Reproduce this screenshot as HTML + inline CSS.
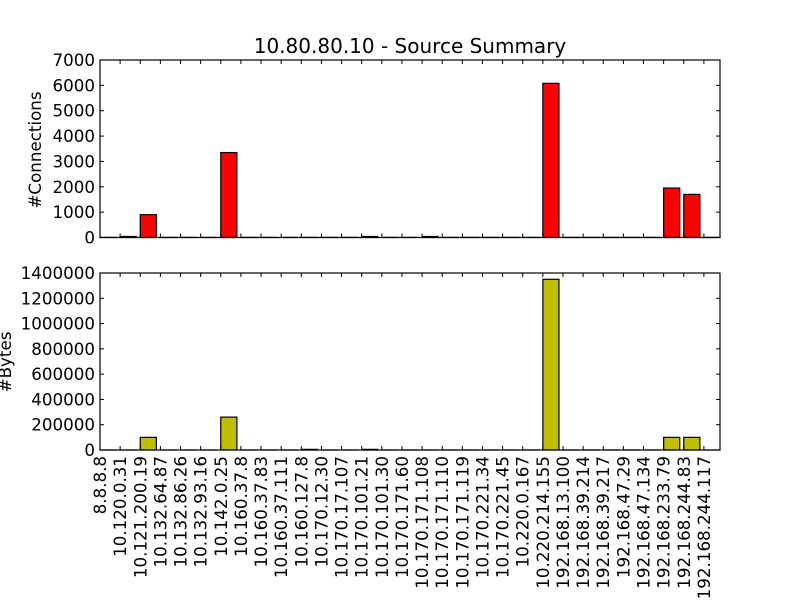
<!DOCTYPE html>
<html><head><meta charset="utf-8"><style>body{margin:0;background:#fff}svg{display:block;font-family:"DejaVu Sans","Liberation Sans",sans-serif}</style></head>
<body>
<svg id="chart" width="800" height="600" xmlns="http://www.w3.org/2000/svg">
<rect width="800" height="600" fill="#fff"/>
<text x="410" y="53" font-size="20" text-anchor="middle">10.80.80.10 - Source Summary</text>
<g id="top"></g><g id="bot"></g><g id="xl"></g>
<text transform="translate(41,150) rotate(-90)" font-size="16.7" text-anchor="middle">#Connections</text>
<text transform="translate(11,362) rotate(-90)" font-size="16.7" text-anchor="middle">#Bytes</text>
</svg>
<script>
const categories=["8.8.8.8","10.120.0.31","10.121.200.19","10.132.64.87","10.132.86.26","10.132.93.16","10.142.0.25","10.160.37.8","10.160.37.83","10.160.37.111","10.160.127.8","10.170.12.30","10.170.17.107","10.170.101.21","10.170.101.30","10.170.171.60","10.170.171.108","10.170.171.110","10.170.171.119","10.170.221.34","10.170.221.45","10.220.0.167","10.220.214.155","192.168.13.100","192.168.39.214","192.168.39.217","192.168.47.29","192.168.47.134","192.168.233.79","192.168.244.83","192.168.244.117"];
const connections=[5,40,900,5,5,5,3350,5,5,5,5,5,5,40,5,5,40,5,5,5,5,5,6080,5,5,5,5,5,1950,1700,5];
const bytes=[100,100,100000,100,100,100,260000,100,300,100,5000,100,100,5000,100,100,100,100,100,100,100,100,1350000,100,100,100,100,100,100000,100000,100];
const connTicks=[0,1000,2000,3000,4000,5000,6000,7000];
const byteTicks=[0,200000,400000,600000,800000,1000000,1200000,1400000];
const NS="http://www.w3.org/2000/svg";
const L=100,R=720,xmax=30.8;
const x=v=>L+v*(R-L)/xmax;
function mk(t,a,p){const e=document.createElementNS(NS,t);for(const k in a)e.setAttribute(k,a[k]);p.appendChild(e);return e;}
function panel(g,vals,ticks,top,bot,color,nm){
  const ymax=ticks[ticks.length-1];
  const y=v=>bot-v/ymax*(bot-top);
  vals.forEach((v,i)=>{
    const r=mk('rect',{x:x(i),y:y(v),width:x(0.8)-x(0),height:bot-y(v),fill:color,stroke:'#000','stroke-width':1.2},g);
    
    
  });
  const f=mk('rect',{x:L,y:top,width:R-L,height:bot-top,fill:'none',stroke:'#000','stroke-width':1.2},g);
  
  
  ticks.forEach(t=>{
    mk('line',{x1:L,x2:L+4,y1:y(t),y2:y(t),stroke:'#000'},g);
    mk('line',{x1:R,x2:R-4,y1:y(t),y2:y(t),stroke:'#000'},g);
    const tx=mk('text',{x:L-5,y:y(t)+6,'font-size':16.7,'text-anchor':'end'},g);
    tx.textContent=t;
    
    
  });
  categories.forEach((c,i)=>{
    mk('line',{x1:x(i),x2:x(i),y1:bot,y2:bot-4,stroke:'#000'},g);
    mk('line',{x1:x(i),x2:x(i),y1:top,y2:top+4,stroke:'#000'},g);
  });
}
panel(document.getElementById('top'),connections,connTicks,60,237.5,'#ff0000','connections');
panel(document.getElementById('bot'),bytes,byteTicks,273,450,'#bfbf00','bytes');
const xl=document.getElementById('xl');
categories.forEach((c,i)=>{
  const t=mk('text',{transform:`translate(${x(i)+6},456) rotate(-90)`,'font-size':16.7,'text-anchor':'end'},xl);
  t.textContent=c;
  
  
});
</script>
</body></html>
